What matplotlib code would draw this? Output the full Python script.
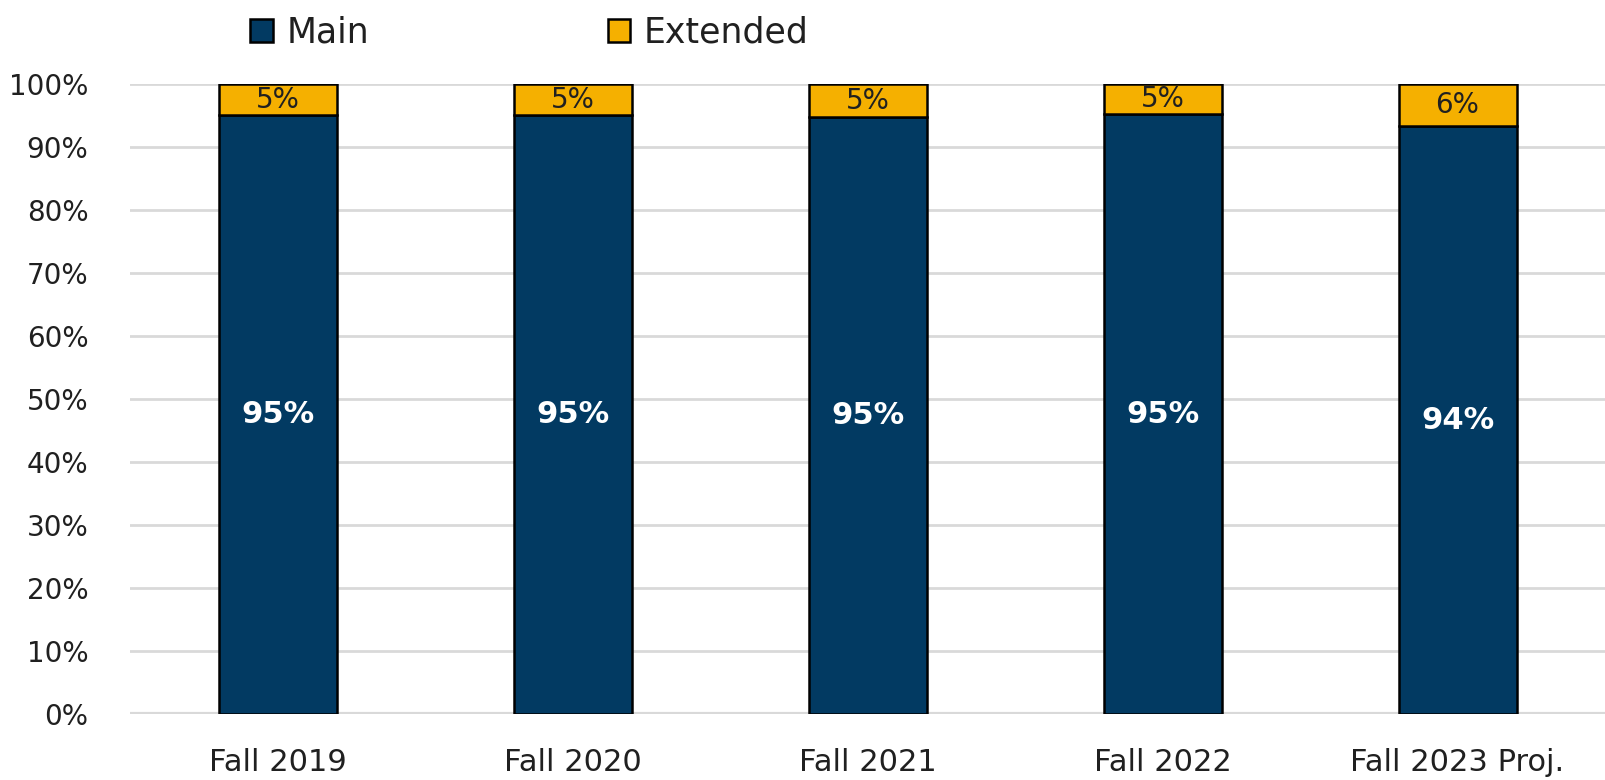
import matplotlib

matplotlib.use("Agg")
import matplotlib.pyplot as plt
from matplotlib.ticker import PercentFormatter

categories = ["Fall 2019", "Fall 2020", "Fall 2021", "Fall 2022", "Fall 2023 Proj."]
main_share = [95.1, 95.1, 94.8, 95.2, 93.4]
extended_share = [4.9, 4.9, 5.2, 4.8, 6.6]
main_labels = ["95%", "95%", "95%", "95%", "94%"]
extended_labels = ["5%", "5%", "5%", "5%", "6%"]

MAIN_COLOR = "#023A62"
EXT_COLOR = "#F5B000"
GRID_COLOR = "#D9D9D9"
TEXT_COLOR = "#202020"

plt.rcParams["font.family"] = ["DejaVu Sans"]

fig = plt.figure(figsize=(16.05, 7.8), dpi=100)
ax = fig.add_axes([0.081, 0.084, 0.919, 0.808])

x = range(len(categories))
bars_main = ax.bar(x, main_share, width=0.4, color=MAIN_COLOR,
                   edgecolor="black", linewidth=1.8, label="Main", zorder=3)
bars_ext = ax.bar(x, extended_share, width=0.4, bottom=main_share, color=EXT_COLOR,
                  edgecolor="black", linewidth=1.8, label="Extended", zorder=3)

# labels inside the segments
for i in x:
    ax.text(i, main_share[i] / 2, main_labels[i], ha="center", va="center",
            color="white", fontsize=22, fontweight="bold", zorder=4)
    ax.text(i, main_share[i] + extended_share[i] / 2, extended_labels[i],
            ha="center", va="center", color=TEXT_COLOR, fontsize=20, zorder=4)

ax.set_xlim(-0.5, len(categories) - 0.5)
ax.set_ylim(0, 100)
ax.set_yticks(range(0, 101, 10))
ax.yaxis.set_major_formatter(PercentFormatter(decimals=0))
ax.set_xticks(list(x))
ax.set_xticklabels(categories)
ax.tick_params(axis="both", length=0, colors=TEXT_COLOR)
ax.tick_params(axis="x", pad=24, labelsize=22)
ax.tick_params(axis="y", pad=30, labelsize=20)
ax.grid(axis="y", color=GRID_COLOR, linewidth=2, zorder=0)
for s in ax.spines.values():
    s.set_visible(False)
ax.axhline(0, color=GRID_COLOR, linewidth=3, zorder=1)

fig.legend(handles=[bars_main, bars_ext], labels=["Main", "Extended"],
           loc="upper center", bbox_to_anchor=(0.330, 1.02), ncol=2,
           frameon=False, fontsize=25, handlelength=0.65, handleheight=0.65,
           handletextpad=0.4, columnspacing=6.85, labelcolor=TEXT_COLOR)

fig.savefig("out.png", dpi=100)
